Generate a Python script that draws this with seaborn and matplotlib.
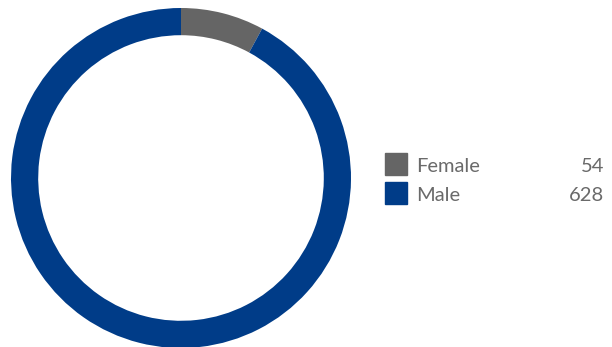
import matplotlib
matplotlib.use("Agg")
import matplotlib.pyplot as plt
from matplotlib.patches import Rectangle
import seaborn as sns

categories = ["Female", "Male"]
counts = [54, 628]
colors = ["#656565", "#003c88"]

sns.set_theme(style="white")
plt.rcParams["font.family"] = ["Lato", "DejaVu Sans"]

W, H = 612, 347
fig = plt.figure(figsize=(W / 100, H / 100), dpi=100)

# donut: 340 px across, centred at (181, 178) from the top-left
ax = fig.add_axes([11 / W, (H - 348) / H, 340 / W, 340 / H])
ax.pie(counts, colors=colors, startangle=90, counterclock=False, radius=1,
       wedgeprops=dict(width=0.16, linewidth=0))
ax.set_xlim(-1, 1)
ax.set_ylim(-1, 1)
ax.set_aspect("equal")
ax.axis("off")

# legend with counts
text_color = "#6a6a6a"
rows_top = [153, 182]
for name, val, col, top in zip(categories, counts, colors, rows_top):
    fig.patches.append(Rectangle((385 / W, (H - top - 22) / H), 22 / W, 22 / H,
                                 transform=fig.transFigure, color=col))
    yb = (H - top - 19) / H
    fig.text(416 / W, yb, name, color=text_color, fontsize=14.5,
             va="baseline", ha="left")
    fig.text(604 / W, yb, f"{val}", color=text_color, fontsize=14.5,
             va="baseline", ha="right")

fig.savefig("out.png", dpi=100, facecolor="white")
